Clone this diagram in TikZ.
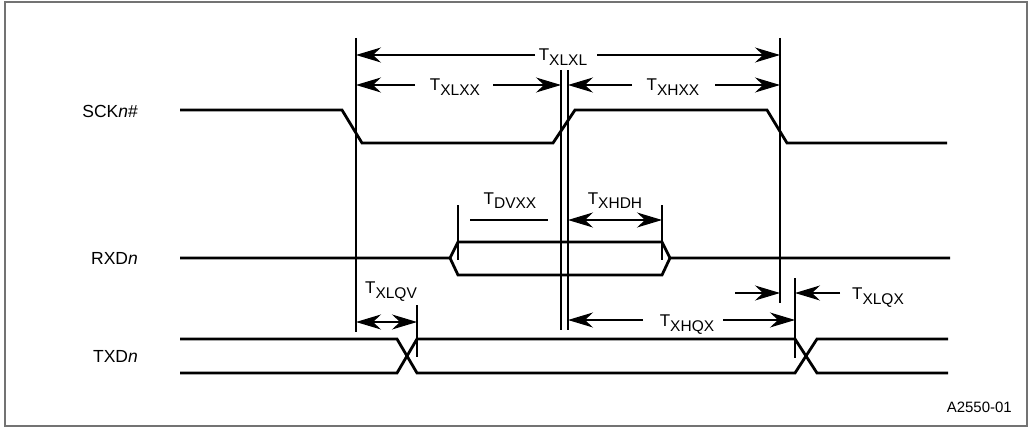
\documentclass[tikz,border=0pt]{standalone}
\usepackage{fontspec}
\setmainfont{Liberation Sans}
\usetikzlibrary{arrows.meta}
\newcommand{\tsub}[1]{{\fontsize{17}{17}\selectfont T}\raisebox{-5pt}{\fontsize{15.5}{15.5}\selectfont #1}}
\begin{document}
\begin{tikzpicture}[x=1pt,y=-1pt,
  sig/.style={line width=2.8pt,line join=miter},
  vline/.style={line width=1.1pt},
  dim/.style={line width=1.1pt,-{Stealth[length=25pt,width=15pt,inset=8pt]}},
  dimboth/.style={line width=1.1pt,{Stealth[length=25pt,width=15pt,inset=8pt]}-{Stealth[length=25pt,width=15pt,inset=8pt]}},
  tlabel/.style={inner sep=0pt,anchor=base},
  signame/.style={inner sep=0pt,anchor=east,font=\fontsize{17.5}{18}\selectfont}]
\useasboundingbox (0,0) rectangle (1029,428);
\draw[black!55,line width=1.3pt] (5,2) rectangle (1027,426);

% signal names
\node[signame] (sck) at (138,111) {SCK\textit{n}\#};
\node[signame] (rxd) at (138,258) {RXD\textit{n}};
\node[signame] (txd) at (138,356) {TXD\textit{n}};

% waveforms
\draw[sig] (180,110) -- (342,110) -- (362,143) -- (553,143) -- (575,110) -- (767,110) -- (787,143) -- (947,143);
\draw[sig] (180,258) -- (450,258) -- (458,242) -- (662,242) -- (670,258) -- (950,258);
\draw[sig] (450,258) -- (458,275) -- (662,275) -- (670,258);
\draw[sig] (180,339) -- (397,339) -- (417,373) -- (795,373) -- (817,339) -- (948,339);
\draw[sig] (180,373) -- (397,373) -- (417,339) -- (795,339) -- (817,373) -- (948,373);

% reference lines
\coordinate (v1t) at (356,38);  \coordinate (v1b) at (356,332);
\coordinate (dlt) at (561,70);  \coordinate (dlb) at (561,330);
\coordinate (drt) at (568,70);  \coordinate (drb) at (568,330);
\coordinate (v2t) at (780,38);  \coordinate (v2b) at (780,303);
\coordinate (v3t) at (417,305); \coordinate (v3b) at (417,357);
\coordinate (v4t) at (795,278); \coordinate (v4b) at (795,358);
\coordinate (k1t) at (458,205); \coordinate (k1b) at (458,260);
\coordinate (k2t) at (662,205); \coordinate (k2b) at (662,260);
\foreach \a/\b in {v1t/v1b,dlt/dlb,drt/drb,v2t/v2b,v3t/v3b,v4t/v4b,k1t/k1b,k2t/k2b}
  \draw[vline] (\a) -- (\b);

% labels
\node[tlabel] (lxlxl) at (563,61) {\tsub{XLXL}};
\node[tlabel] (lxlxx) at (455,91) {\tsub{XLXX}};
\node[tlabel] (lxhxx) at (673,91) {\tsub{XHXX}};
\node[tlabel] (ldvxx) at (510,204) {\tsub{DVXX}};
\node[tlabel] (lxhdh) at (615,204) {\tsub{XHDH}};
\node[tlabel] (lxlqv) at (391,293) {\tsub{XLQV}};
\node[tlabel] (lxhqx) at (687,326) {\tsub{XHQX}};
\node[tlabel] (lxlqx) at (878,299) {\tsub{XLQX}};
\node[inner sep=0pt,anchor=base east,font=\fontsize{15}{15}\selectfont] (fig) at (1012,412) {A2550-01};

% dimension arrows
\coordinate (a1) at (535,55); \coordinate (a2) at (597,55);
\draw[dim] (a1) -- (v1t |- a1);
\draw[dim] (a2) -- (v2t |- a2);
\coordinate (b1) at (415,85); \coordinate (b2) at (493,85);
\draw[dim] (b1) -- (v1t |- b1);
\draw[dim] (b2) -- (dlt |- b2);
\coordinate (c1) at (632,85); \coordinate (c2) at (715,85);
\draw[dim] (c1) -- (drt |- c1);
\draw[dim] (c2) -- (v2t |- c2);
\coordinate (d1) at (470,220); \coordinate (d2) at (548,220);
\draw[vline] (d1) -- (d2);
\draw[dimboth] (drt |- d1) -- (k2t |- d1);
\coordinate (e1) at (356,322);
\draw[dimboth] (e1) -- (v3t |- e1);
\coordinate (f1) at (643,320); \coordinate (f2) at (723,320);
\draw[dim] (f1) -- (drt |- f1);
\draw[dim] (f2) -- (v4t |- f2);
\coordinate (g1) at (735,293); \coordinate (g2) at (840,293);
\draw[dim] (g1) -- (v2t |- g1);
\draw[dim] (g2) -- (v4t |- g2);
\end{tikzpicture}
\end{document}
